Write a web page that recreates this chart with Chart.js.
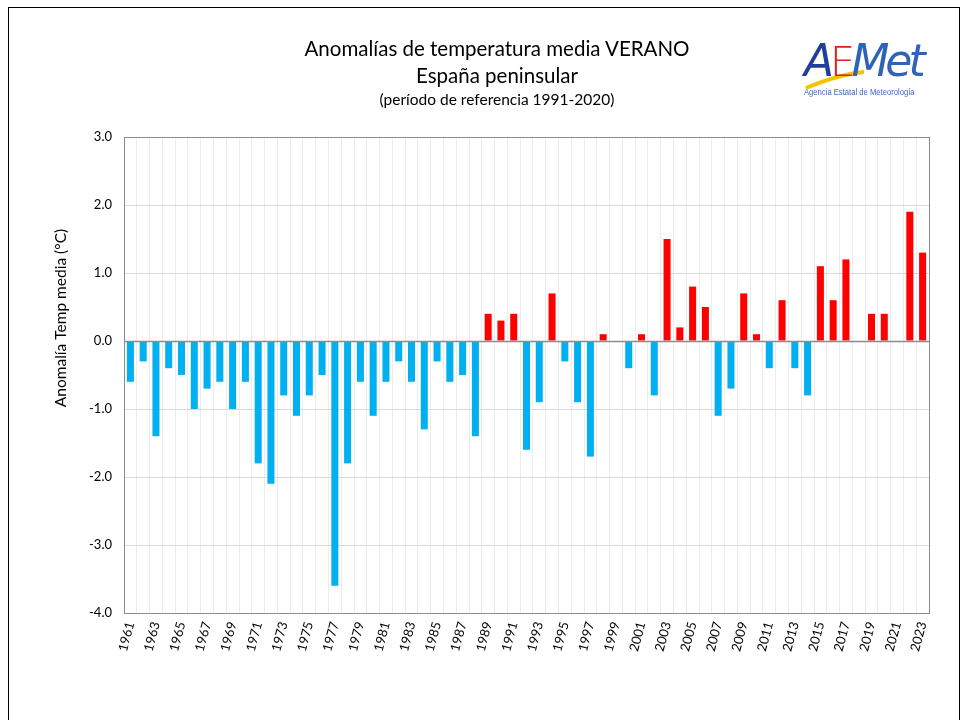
<!DOCTYPE html>
<html>
<head>
<meta charset="utf-8">
<script src="https://cdn.jsdelivr.net/npm/chart.js@4.4.1/dist/chart.umd.min.js"></script>
<style>
  html, body { margin: 0; padding: 0; background: #fff; }
  #wrap { position: relative; width: 968px; height: 720px; overflow: hidden; }
  #frame { position: absolute; left: 8px; top: 7px; width: 952px; height: 760px; border: 1px solid #000; box-sizing: border-box; }
  canvas { position: absolute; left: 0; top: 0; }
  .t { position: absolute; left: 0; width: 994px; text-align: center; font-family: Lato, "Open Sans", sans-serif; color: #000; }
  #logo { position: absolute; left: 800px; top: 36px; width: 130px; height: 70px; }
  #logoTxt { position: absolute; left: 804px; top: 87px; font-family: "Liberation Sans Narrow", "Liberation Sans", sans-serif; font-size: 9px; color: #3a6cc0; white-space: nowrap; transform: scaleX(0.85); transform-origin: left top; }
  #logoMark { position: absolute; left: 804px; top: 33px; font-family: "DejaVu Sans", sans-serif; font-style: italic; font-size: 44px; line-height: 56px; letter-spacing: -4px; white-space: nowrap; font-weight: 300; }
</style>
</head>
<body>
<div id="wrap">
  <canvas id="c" width="968" height="720"></canvas>
  <div id="frame"></div>
  <div class="t" style="top:36px;font-size:20.5px;">Anomalías de temperatura media VERANO</div>
  <div class="t" style="top:63px;font-size:20.5px;">España peninsular</div>
  <div class="t" style="top:90px;font-size:15.5px;">(período de referencia 1991-2020)</div>
  <svg id="logo" viewBox="0 0 130 70">
    <path d="M6 52 Q40 38 64 36" stroke="#f5c400" stroke-width="4" fill="none"/>
  </svg>
  <div id="logoMark"><span style="color:#1f3f9a;">A</span><span style="color:#e0201e;font-style:normal;font-size:40px;">E</span><span style="color:#2f63b8;">Met</span></div>
  <div id="logoTxt">Agencia Estatal de Meteorología</div>
</div>
<script>
const years = [];
for (let y = 1961; y <= 2023; y++) years.push(String(y));

const anomalies = [
  -0.6, -0.3, -1.4, -0.4, -0.5, -1.0, -0.7, -0.6, -1.0, -0.6,
  -1.8, -2.1, -0.8, -1.1, -0.8, -0.5, -3.6, -1.8, -0.6, -1.1,
  -0.6, -0.3, -0.6, -1.3, -0.3, -0.6, -0.5, -1.4, 0.4, 0.3,
  0.4, -1.6, -0.9, 0.7, -0.3, -0.9, -1.7, 0.1, 0.0, -0.4,
  0.1, -0.8, 1.5, 0.2, 0.8, 0.5, -1.1, -0.7, 0.7, 0.1,
  -0.4, 0.6, -0.4, -0.8, 1.1, 0.6, 1.2, 0.0, 0.4, 0.4,
  0.0, 1.9, 1.3
];

const yTicks = [3, 2, 1, 0, -1, -2, -3, -4];
const yTitle = 'Anomalía Temp media (°C)';

const warmColor = '#FF0000';
const coldColor = '#00B0F0';
const barColors = anomalies.map(v => v >= 0 ? warmColor : coldColor);

const plotBorder = {
  id: 'plotBorder',
  afterDatasetsDraw(chart) {
    const a = chart.chartArea;
    const ctx = chart.ctx;
    ctx.save();
    ctx.strokeStyle = '#8c8c8c';
    ctx.lineWidth = 1;
    ctx.strokeRect(Math.round(a.left) + 0.5, Math.round(a.top) + 0.5, Math.round(a.right - a.left), Math.round(a.bottom - a.top));
    const y0 = Math.round(chart.scales.y.getPixelForValue(0)) + 0.5;
    ctx.lineWidth = 1.5;
    ctx.beginPath();
    ctx.moveTo(a.left, y0);
    ctx.lineTo(a.right, y0);
    ctx.stroke();
    // y-axis title (placed like the reference, above plot centre)
    ctx.translate(61, 318);
    ctx.rotate(-Math.PI / 2);
    ctx.fillStyle = '#000';
    ctx.font = '15.5px Lato, "Open Sans", sans-serif';
    ctx.textAlign = 'center';
    ctx.textBaseline = 'middle';
    ctx.fillText(yTitle, 0, 0);
    ctx.restore();
  }
};

new Chart(document.getElementById('c'), {
  type: 'bar',
  data: {
    labels: years,
    datasets: [{
      data: anomalies,
      backgroundColor: barColors,
      borderWidth: 0,
      categoryPercentage: 1.0,
      barPercentage: 0.55
    }]
  },
  options: {
    responsive: false,
    animation: false,
    layout: { padding: { left: 0, top: 137, right: 39, bottom: 0 } },
    plugins: { legend: { display: false }, tooltip: { enabled: false }, title: { display: false } },
    scales: {
      x: {
        offset: true,
        grid: { display: true, offset: true, color: '#ececec', lineWidth: 1, drawTicks: false },
        border: { display: false },
        afterFit(scale) { scale.height = 107; },
        ticks: {
          autoSkip: false,
          maxRotation: 75,
          minRotation: 75,
          padding: 7,
          color: '#000',
          font: { family: 'Lato, "Open Sans", sans-serif', size: 13 },
          callback(val, idx) { return idx % 2 === 0 ? years[idx] : ''; }
        }
      },
      y: {
        min: -4,
        max: 3,
        afterFit(scale) { scale.width = 124; },
        afterBuildTicks(scale) { scale.ticks = yTicks.map(v => ({ value: v })); },
        grid: { color: '#d9d9d9', lineWidth: 1, drawTicks: false },
        border: { display: false },
        ticks: {
          padding: 12,
          color: '#000',
          font: { family: 'Lato, "Open Sans", sans-serif', size: 13 },
          callback(v) { return Number(v).toFixed(1); }
        },
        title: { display: false }
      }
    }
  },
  plugins: [plotBorder]
});
</script>
</body>
</html>
